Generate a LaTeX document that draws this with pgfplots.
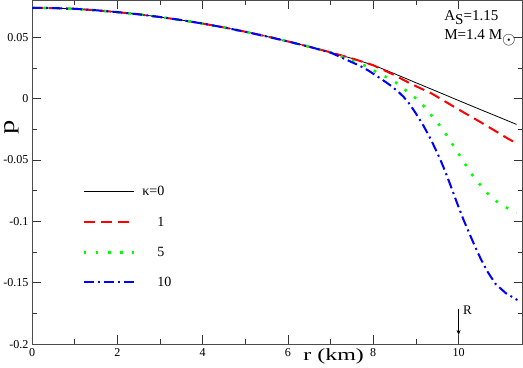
\documentclass[border=0pt]{standalone}
\usepackage{fontspec}
\setmainfont{Liberation Serif}
\usepackage{pgfplots}
\pgfplotsset{compat=1.18}
\usetikzlibrary{arrows.meta}
\definecolor{pred}{RGB}{255,0,0}
\definecolor{pgreen}{RGB}{0,255,0}
\definecolor{pblue}{RGB}{0,0,255}
\begin{document}
\begin{tikzpicture}
\begin{axis}[
    scale only axis,
    width=488pt, height=342pt,
    xmin=0, xmax=11.5,
    ymin=-0.2, ymax=0.08,
    xtick={0,2,4,6,8,10},
    xticklabels={0,2,4,6,8,10},
    ytick={-0.2,-0.15,-0.1,-0.05,0,0.05},
    yticklabels={-0.2,-0.15,-0.1,-0.05,0,0.05},
    minor x tick num=1,
    minor y tick num=1,
    tick align=inside,
    major tick length=9pt,
    minor tick length=5pt,
    axis line style={black!70, line width=0.9pt},
    every tick/.style={black!80, line width=0.8pt},
    tick label style={font=\fontsize{12}{12}\selectfont},
    xticklabel style={yshift=-1pt},
    xlabel={\scalebox{1.4}[1]{r (km)}},
    xlabel style={font=\fontsize{17}{17}\selectfont, at={(axis description cs:0.615,-0.035)}, anchor=center},
    ylabel={\scalebox{1.35}[1]{p}},
    ylabel style={font=\fontsize{21}{21}\selectfont, inner sep=2pt, at={(axis description cs:-0.042,0.63)}, anchor=center},
    legend style={draw=none, fill=none, at={(rel axis cs:0.0963,0.47)}, anchor=north west,
        font=\fontsize{14}{14}\selectfont, row sep=16pt,
        nodes={inner sep=0pt, text height=11pt, text depth=3pt},
        /tikz/every odd column/.style={column sep=7pt}},
    legend cell align=left,
    legend image code/.code={\draw[#1] (0pt,0pt) -- (50pt,0pt);},
]
\addplot[black, line width=0.8pt] coordinates {
(0,0.0740) (0.5,0.0738) (1,0.0732) (1.5,0.0720) (2,0.0705) (2.5,0.0687)
(3,0.0665) (3.5,0.0640) (4,0.0612) (4.5,0.0580) (5,0.0545) (5.5,0.0507)
(6,0.0466) (6.5,0.0423) (7,0.0377) (7.5,0.0328) (8,0.0273) (8.5,0.0203)
(9,0.0130) (9.5,0.0058) (10,-0.0015) (10.5,-0.0087) (11,-0.0158) (11.36,-0.0210)
};
\addplot[pred, line width=2pt, dash pattern=on 11pt off 6pt] coordinates {
(0,0.0740) (0.5,0.0738) (1,0.0732) (1.5,0.0720) (2,0.0705) (2.5,0.0687)
(3,0.0665) (3.5,0.0640) (4,0.0612) (4.5,0.0580) (5,0.0545) (5.5,0.0507)
(6,0.0466) (6.5,0.0423) (7,0.0377) (7.5,0.0328) (8,0.0272) (8.48,0.0195)
(8.87,0.0123) (9.38,0.0040) (9.97,-0.0082) (10.52,-0.0192) (11.18,-0.0330) (11.36,-0.0362)
};
\addplot[pgreen, line width=2.6pt, dash pattern=on 2.6pt off 9.4pt] coordinates {
(0,0.0740) (0.5,0.0738) (1,0.0732) (1.5,0.0720) (2,0.0705) (2.5,0.0687)
(3,0.0665) (3.5,0.0640) (4,0.0612) (4.5,0.0580) (5,0.0545) (5.5,0.0507)
(6,0.0466) (6.5,0.0423) (7,0.0377) (7.62,0.0295) (7.87,0.0259) (8.09,0.0213)
(8.35,0.0169) (8.57,0.0123) (8.79,0.0060) (9.01,0.0000) (9.21,-0.0069) (9.38,-0.0143)
(9.56,-0.0219) (9.72,-0.0298) (9.87,-0.0377) (10.02,-0.0459) (10.17,-0.0541) (10.32,-0.0621)
(10.49,-0.0695) (10.67,-0.0768) (10.87,-0.0832) (11.10,-0.0883) (11.36,-0.0930)
};
\addplot[pblue, line width=2pt, dash pattern=on 10pt off 4pt on 2pt off 4pt] coordinates {
(0,0.0740) (0.5,0.0738) (1,0.0732) (1.5,0.0720) (2,0.0705) (2.5,0.0687)
(3,0.0665) (3.5,0.0640) (4,0.0612) (4.5,0.0580) (5,0.0545) (5.5,0.0507)
(6,0.0466) (6.5,0.0423) (7,0.0375) (7.34,0.0322) (7.69,0.0267) (7.89,0.0228)
(8.16,0.0167) (8.40,0.0109) (8.60,0.0052) (8.71,0.0015) (8.83,-0.0034) (8.99,-0.0115)
(9.18,-0.0222) (9.34,-0.0325) (9.46,-0.0412) (9.58,-0.0503) (9.69,-0.0595) (9.81,-0.0705)
(9.97,-0.0855) (10.12,-0.0990) (10.28,-0.1120) (10.40,-0.1215) (10.52,-0.1305) (10.68,-0.1410)
(10.87,-0.1510) (11.11,-0.1585) (11.38,-0.1640)
};
\legend{κ=0,\phantom{κ=}1,\phantom{κ=}5,\phantom{κ=}10}
\draw[-{Stealth[length=5pt,width=4pt]}, line width=0.7pt] (axis cs:10,-0.171) -- (axis cs:10,-0.1925);
\node[anchor=south west, inner sep=0pt, font=\fontsize{13}{13}\selectfont] at (axis cs:10.1,-0.176) {R};
\node[anchor=base west, inner sep=0pt, font=\fontsize{15}{15}\selectfont] at (rel axis cs:0.840,0.9415) {A\raisebox{-3.5pt}{S}=1.15};
\node[anchor=base west, inner sep=0pt, font=\fontsize{15}{15}\selectfont] at (rel axis cs:0.840,0.886) {M=1.4 M\raisebox{-5pt}{\fontsize{19}{19}\selectfont$\odot$}};
\end{axis}
\end{tikzpicture}
\end{document}
